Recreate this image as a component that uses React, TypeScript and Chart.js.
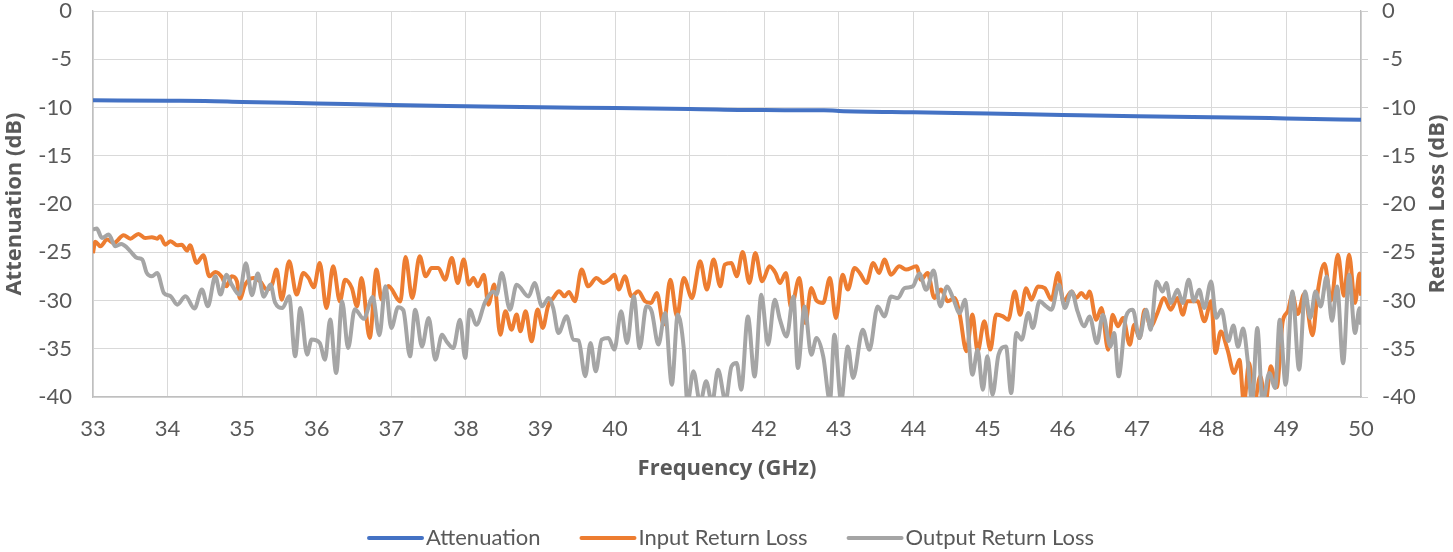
import React, { useEffect, useRef } from "react";
import { Chart, registerables } from "chart.js";

Chart.register(...registerables);

const FONT = "Lato, 'Open Sans', sans-serif";
const TITLE_FONT = "'Open Sans', Lato, sans-serif";
const TEXT = "#595959";

const SERIES_NAMES = ["Attenuation", "Input Return Loss", "Output Return Loss"];
const SERIES_COLORS = ["#4472C4", "#ED7D31", "#A5A5A5"];
const X_TITLE = "Frequency (GHz)";
const Y_TITLE = "Attenuation (dB)";
const Y2_TITLE = "Return Loss (dB)";
const X_MIN = 33;
const X_MAX = 50;
const Y_MIN = -40;
const Y_MAX = 0;

const ATT_FREQ = [33, 34, 34.5, 35, 36, 37, 38, 39, 40, 41, 42, 42.8, 43, 44, 45, 46, 47, 48, 49, 50];
const ATT_DB = [-9.26, -9.3, -9.32, -9.42, -9.58, -9.75, -9.87, -9.98, -10.05, -10.15, -10.27, -10.28, -10.35, -10.5, -10.63, -10.77, -10.9, -11.0, -11.13, -11.27];

const IRL_FREQ = [
  33.0, 33.03, 33.1, 33.19, 33.28, 33.41, 33.5, 33.61, 33.7, 33.79, 33.86, 33.9, 33.97, 34.04, 34.13, 34.19, 34.26, 34.3, 34.39, 34.48,
  34.56, 34.64, 34.73, 34.79, 34.86, 34.93, 34.97, 35.04, 35.15, 35.24, 35.33, 35.4, 35.46, 35.53, 35.63, 35.73, 35.82, 35.89, 35.96, 36.04,
  36.13, 36.22, 36.31, 36.38, 36.47, 36.54, 36.6, 36.71, 36.8, 36.87, 36.96, 37.12, 37.19, 37.28, 37.38, 37.46, 37.54, 37.63, 37.72, 37.81,
  37.89, 37.97, 38.04, 38.1, 38.16, 38.24, 38.3, 38.38, 38.46, 38.53, 38.61, 38.68, 38.73, 38.8, 38.88, 38.96, 39.03, 39.1, 39.17, 39.25,
  39.32, 39.38, 39.46, 39.55, 39.64, 39.75, 39.84, 39.92, 39.99, 40.05, 40.13, 40.22, 40.31, 40.4, 40.48, 40.56, 40.65, 40.74, 40.83, 40.92,
  41.03, 41.14, 41.23, 41.32, 41.41, 41.47, 41.56, 41.63, 41.71, 41.8, 41.88, 41.97, 42.07, 42.15, 42.21, 42.29, 42.36, 42.47, 42.55, 42.63,
  42.7, 42.79, 42.88, 42.96, 43.05, 43.12, 43.21, 43.28, 43.37, 43.46, 43.54, 43.61, 43.7, 43.81, 43.9, 44.04, 44.1, 44.19, 44.28, 44.37,
  44.46, 44.55, 44.62, 44.71, 44.79, 44.86, 44.95, 45.03, 45.11, 45.2, 45.27, 45.36, 45.43, 45.51, 45.58, 45.67, 45.76, 45.85, 45.94, 46.01,
  46.12, 46.18, 46.25, 46.32, 46.36, 46.45, 46.52, 46.61, 46.67, 46.74, 46.81, 46.9, 46.96, 47.03, 47.1, 47.18, 47.27, 47.36, 47.45, 47.54,
  47.61, 47.67, 47.81, 47.9, 47.99, 48.05, 48.12, 48.21, 48.3, 48.37, 48.43, 48.5, 48.57, 48.65, 48.72, 48.79, 48.87, 48.95, 49.02, 49.08,
  49.15, 49.24, 49.35, 49.42, 49.51, 49.6, 49.69, 49.77, 49.84, 49.92, 49.98, 50.0,
];
const IRL_DB = [
  -25.1, -23.9, -24.38, -23.69, -24.04, -23.24, -23.59, -23.1, -23.52, -23.45, -23.59, -23.35, -24.21, -23.86, -24.28, -24.21, -24.83, -24.28, -26.11, -25.31,
  -27.49, -27.04, -27.59, -28.53, -27.49, -28.01, -29.8, -28.35, -27.66, -28.01, -28.87, -28.35, -26.8, -29.91, -25.94, -29.39, -27.14, -27.66, -28.63, -26.11,
  -30.77, -26.45, -30.08, -27.84, -28.7, -30.6, -27.66, -33.88, -26.8, -29.9, -28.5, -30.1, -25.5, -29.74, -25.42, -27.49, -26.63, -26.63, -27.84, -25.59,
  -28.18, -25.76, -28.35, -27.66, -28.53, -27.32, -30.43, -28.35, -33.54, -31.12, -33.02, -31.46, -33.19, -31.12, -34.23, -30.94, -32.84, -30.6, -29.74, -29.04,
  -29.56, -29.11, -30.08, -26.8, -28.53, -27.66, -28.18, -27.84, -27.32, -28.87, -27.49, -29.56, -29.04, -30.08, -30.25, -29.22, -32.5, -27.84, -31.64, -27.66,
  -29.74, -25.94, -28.87, -25.76, -28.53, -26.28, -26.11, -27.49, -24.97, -28.18, -25.07, -28.01, -26.45, -27.14, -28.18, -27.14, -30.77, -27.66, -32.33, -28.7,
  -30.01, -30.25, -27.66, -31.81, -27.32, -28.87, -26.63, -27.14, -28.18, -26.11, -27.14, -25.76, -27.32, -26.45, -26.8, -26.45, -27.84, -27.14, -29.74, -28.87,
  -30.08, -29.74, -31.46, -35.26, -31.46, -35.26, -32.15, -35.09, -31.46, -31.65, -31.99, -29.06, -31.47, -28.72, -29.92, -28.54, -28.72, -29.92, -27.15, -30.09,
  -29.06, -29.74, -29.23, -29.74, -29.06, -31.99, -30.78, -35.1, -31.47, -32.68, -31.82, -34.58, -32.51, -33.89, -30.95, -32.68, -31.3, -29.74, -30.95, -29.74,
  -31.47, -30.09, -30.09, -32.16, -30.09, -35.44, -33.2, -35.1, -37.51, -36.13, -40.6, -36.48, -40.6, -37.86, -40.6, -36.82, -39.0, -32.2, -31.1, -29.4,
  -31.4, -29.3, -33.6, -29.1, -26.2, -30.0, -25.25, -29.5, -25.25, -30.25, -27.2, -29.5,
];

const ORL_FREQ = [
  33.0, 33.05, 33.12, 33.21, 33.3, 33.38, 33.46, 33.52, 33.59, 33.66, 33.72, 33.79, 33.86, 33.95, 34.04, 34.13, 34.24, 34.36, 34.46, 34.54,
  34.64, 34.71, 34.79, 34.86, 34.96, 35.05, 35.13, 35.21, 35.29, 35.38, 35.44, 35.54, 35.63, 35.71, 35.78, 35.87, 35.93, 36.04, 36.11, 36.18,
  36.26, 36.34, 36.42, 36.51, 36.63, 36.75, 36.84, 36.92, 37.0, 37.09, 37.16, 37.25, 37.32, 37.41, 37.5, 37.59, 37.68, 37.74, 37.83, 37.92,
  37.99, 38.05, 38.14, 38.26, 38.37, 38.41, 38.48, 38.59, 38.68, 38.84, 38.92, 39.02, 39.11, 39.17, 39.24, 39.35, 39.44, 39.51, 39.6, 39.67,
  39.74, 39.82, 39.91, 39.99, 40.08, 40.16, 40.25, 40.33, 40.42, 40.49, 40.58, 40.67, 40.76, 40.84, 40.92, 40.97, 41.05, 41.14, 41.22, 41.3,
  41.38, 41.48, 41.56, 41.63, 41.69, 41.78, 41.87, 41.96, 42.05, 42.14, 42.21, 42.3, 42.39, 42.45, 42.54, 42.63, 42.7, 42.79, 42.88, 42.94,
  43.03, 43.12, 43.19, 43.32, 43.41, 43.52, 43.61, 43.7, 43.79, 43.88, 43.99, 44.08, 44.17, 44.27, 44.36, 44.45, 44.53, 44.62, 44.69, 44.79,
  44.86, 44.93, 44.99, 45.06, 45.14, 45.24, 45.31, 45.38, 45.45, 45.54, 45.6, 45.69, 45.78, 45.85, 45.95, 46.03, 46.12, 46.2, 46.29, 46.36,
  46.46, 46.54, 46.64, 46.69, 46.75, 46.85, 46.94, 47.03, 47.12, 47.18, 47.26, 47.34, 47.39, 47.45, 47.54, 47.61, 47.69, 47.76, 47.83, 47.9,
  47.99, 48.06, 48.13, 48.22, 48.29, 48.35, 48.42, 48.48, 48.54, 48.61, 48.68, 48.77, 48.85, 48.91, 48.99, 49.08, 49.17, 49.25, 49.32, 49.39,
  49.46, 49.54, 49.61, 49.68, 49.76, 49.84, 49.92, 49.98, 50.0,
];
const ORL_DB = [
  -22.65, -22.55, -23.52, -23.17, -24.38, -24.14, -24.55, -25.07, -25.59, -25.76, -27.14, -27.49, -27.14, -29.22, -29.56, -30.43, -29.56, -30.84, -28.87, -30.6,
  -27.49, -29.39, -27.32, -28.35, -29.39, -26.15, -29.45, -27.2, -29.6, -28.35, -30.2, -30.77, -29.56, -35.78, -30.77, -35.61, -34.05, -34.4, -36.13, -31.98,
  -37.51, -30.08, -34.92, -30.9, -31.9, -29.65, -33.6, -28.53, -32.84, -30.7, -31.0, -35.79, -30.95, -34.76, -31.81, -36.13, -33.54, -34.24, -34.92, -31.99,
  -35.96, -30.95, -32.51, -30.09, -29.06, -29.4, -27.15, -30.95, -28.36, -29.58, -28.18, -30.6, -29.74, -30.77, -33.36, -31.64, -34.05, -34.16, -37.85, -34.4,
  -37.34, -34.05, -33.88, -35.09, -31.12, -34.4, -29.56, -34.92, -30.6, -31.12, -34.57, -31.29, -38.72, -31.46, -34.92, -40.6, -37.34, -40.6, -38.38, -40.6,
  -37.17, -40.4, -36.83, -36.48, -39.24, -31.65, -37.87, -29.4, -34.58, -29.92, -31.99, -33.72, -29.58, -37.0, -30.61, -35.62, -33.89, -35.79, -40.4, -33.54,
  -40.4, -34.76, -38.03, -33.03, -35.1, -30.61, -31.65, -29.58, -29.75, -28.72, -28.54, -27.2, -28.89, -26.9, -30.61, -28.54, -29.74, -31.3, -29.92, -37.69,
  -35.1, -39.24, -35.79, -39.76, -35.62, -34.76, -39.59, -33.37, -34.06, -31.3, -32.85, -30.09, -30.61, -30.95, -28.36, -30.78, -29.06, -31.13, -32.68, -31.65,
  -34.41, -31.47, -34.76, -33.37, -37.86, -31.65, -30.95, -33.89, -30.95, -33.03, -28.02, -29.06, -28.19, -30.26, -28.88, -30.26, -27.84, -30.09, -28.88, -30.78,
  -28.02, -31.8, -30.95, -34.2, -32.6, -34.8, -32.9, -36.13, -40.6, -32.85, -40.6, -37.51, -39.07, -31.99, -38.72, -29.06, -37.17, -29.06, -31.82, -29.06,
  -30.61, -27.5, -32.1, -28.54, -36.5, -27.33, -33.37, -30.8, -32.5,
];

const toPoints = (xs: number[], ys: number[]) => xs.map((x, i) => ({ x, y: ys[i] }));

const overlayPlugin = {
  id: "overlay",
  afterDraw(chart: any) {
    const ctx = chart.ctx as CanvasRenderingContext2D;
    const area = chart.chartArea;
    ctx.save();
    // legend
    ctx.font = `22px ${FONT}`;
    const lineW = 53;
    const gap = 4;
    const spacing = 41;
    const widths = SERIES_NAMES.map((n) => ctx.measureText(n).width);
    const total = widths.reduce((a, w) => a + lineW + gap + w, 0) + spacing * (SERIES_NAMES.length - 1);
    let x = chart.width / 2 + 5 - total / 2;
    const y = 538;
    SERIES_NAMES.forEach((n, i) => {
      ctx.strokeStyle = SERIES_COLORS[i];
      ctx.lineWidth = 4;
      ctx.lineCap = "round";
      ctx.beginPath();
      ctx.moveTo(x, y);
      ctx.lineTo(x + lineW, y);
      ctx.stroke();
      ctx.fillStyle = TEXT;
      ctx.textBaseline = "middle";
      ctx.textAlign = "left";
      ctx.fillText(n, x + lineW + gap, y);
      x += lineW + gap + widths[i] + spacing;
    });
    // right axis title, reading bottom to top
    ctx.font = `bold 22px ${TITLE_FONT}`;
    ctx.fillStyle = TEXT;
    ctx.translate(chart.width - 15, (area.top + area.bottom) / 2);
    ctx.rotate(-Math.PI / 2);
    ctx.textAlign = "center";
    ctx.textBaseline = "middle";
    ctx.fillText(Y2_TITLE, 0, 0);
    ctx.restore();
  },
};

export default function App() {
  const ref = useRef<HTMLCanvasElement | null>(null);

  useEffect(() => {
    document.body.style.margin = "0";
    const canvas = ref.current;
    if (!canvas) return;
    const lineSet = (i: number, xs: number[], ys: number[], axis: string, order: number) => ({
      label: SERIES_NAMES[i],
      data: toPoints(xs, ys),
      borderColor: SERIES_COLORS[i],
      backgroundColor: SERIES_COLORS[i],
      borderWidth: 4,
      pointRadius: 0,
      cubicInterpolationMode: "monotone",
      yAxisID: axis,
      order,
      clip: 0,
    });
    const chart = new Chart(canvas, {
      type: "line",
      data: {
        datasets: [
          lineSet(0, ATT_FREQ, ATT_DB, "y", 2),
          lineSet(1, IRL_FREQ, IRL_DB, "y2", 1),
          lineSet(2, ORL_FREQ, ORL_DB, "y2", 0),
        ] as any,
      },
      options: {
        animation: false,
        responsive: true,
        maintainAspectRatio: false,
        layout: { padding: { top: 11, left: 0, right: 0, bottom: 0 } },
        plugins: { legend: { display: false }, tooltip: { enabled: false } },
        scales: {
          x: {
            type: "linear",
            min: X_MIN,
            max: X_MAX,
            afterFit: (s: any) => {
              s.height = 155;
              s.paddingLeft = 0;
              s.paddingRight = 0;
            },
            ticks: { stepSize: 1, color: TEXT, font: { family: FONT, size: 22 }, padding: 19 },
            grid: { color: "#d9d9d9", drawTicks: false },
            border: { color: "#bfbfbf", width: 1.3 },
            title: {
              display: true,
              text: X_TITLE,
              color: TEXT,
              font: { family: TITLE_FONT, size: 22, weight: "bold" },
              padding: { top: 0, bottom: 70 },
            },
          },
          y: {
            type: "linear",
            position: "left",
            min: Y_MIN,
            max: Y_MAX,
            afterFit: (s: any) => {
              s.width = 93;
              s.paddingTop = 0;
              s.paddingBottom = 0;
            },
            ticks: { stepSize: 5, color: TEXT, font: { family: FONT, size: 22 }, padding: 21 },
            grid: { color: "#d9d9d9", drawTicks: false },
            border: { color: "#bfbfbf", width: 1.3 },
            title: {
              display: true,
              text: Y_TITLE,
              color: TEXT,
              font: { family: TITLE_FONT, size: 22, weight: "bold" },
              padding: { top: 2, bottom: 0 },
            },
          },
          y2: {
            type: "linear",
            position: "right",
            min: Y_MIN,
            max: Y_MAX,
            afterFit: (s: any) => {
              s.width = 92;
              s.paddingTop = 0;
              s.paddingBottom = 0;
            },
            ticks: { stepSize: 5, color: TEXT, font: { family: FONT, size: 22 }, padding: 14 },
            grid: { color: "#d0d0d0", drawOnChartArea: false, drawTicks: true, tickLength: 7 },
            border: { color: "#bfbfbf", width: 1.3 },
          },
        },
      },
      plugins: [overlayPlugin],
    });
    return () => chart.destroy();
  }, []);

  return (
    <div style={{ position: "relative", width: 1453, height: 552, background: "#ffffff" }}>
      <canvas ref={ref} />
    </div>
  );
}
